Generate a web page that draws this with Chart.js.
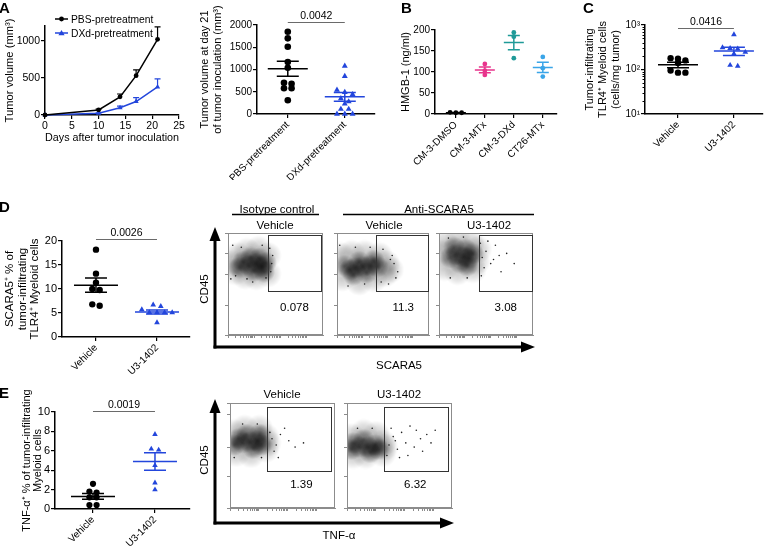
<!DOCTYPE html>
<html>
<head>
<meta charset="utf-8">
<script src="https://cdn.jsdelivr.net/npm/chart.js@4.4.1/dist/chart.umd.min.js"></script>
<style>
  body { margin: 0; background: #fff; }
  #fig { position: relative; width: 768px; height: 555px; overflow: hidden; }
  #fig canvas { position: absolute; }
  #ann { position: absolute; left: 0; top: 0; pointer-events: none; }
</style>
</head>
<body>
<div id="fig">
<svg id="ann" width="768" height="555" font-family="'Liberation Sans', Arial, sans-serif">
  <g font-weight="bold" font-size="15">
    <text x="-1" y="13">A</text>
    <text x="401" y="13">B</text>
    <text x="583" y="13">C</text>
    <text x="-1" y="212">D</text>
    <text x="-1" y="398">E</text>
  </g>
  <!-- legend of the growth curves -->
  <line x1="55" y1="19" x2="68" y2="19" stroke="#000" stroke-width="1.5"/>
  <circle cx="61.5" cy="19" r="2.4" fill="#000"/>
  <text x="71" y="22.5" font-size="10.3">PBS-pretreatment</text>
  <line x1="55" y1="33" x2="68" y2="33" stroke="#2346dc" stroke-width="1.5"/>
  <path d="M61.5 30 L64.6 35.2 L58.4 35.2 Z" fill="#2346dc"/>
  <text x="71" y="36.5" font-size="10.3">DXd-pretreatment</text>
  <!-- flow headers -->
  <g font-size="11.5" text-anchor="middle">
    <text x="277" y="213">Isotype control</text>
    <text x="439" y="213">Anti-SCARA5</text>
    <text x="275" y="229">Vehicle</text>
    <text x="384" y="229">Vehicle</text>
    <text x="489" y="229">U3-1402</text>
    <text x="282" y="398">Vehicle</text>
    <text x="399" y="398">U3-1402</text>
    <text x="399" y="369">SCARA5</text>
    <text x="339" y="539">TNF-α</text>
    <text transform="translate(208,289) rotate(-90)">CD45</text>
    <text transform="translate(208,460) rotate(-90)">CD45</text>
  </g>
  <g stroke="#000" stroke-width="1.4">
    <line x1="232" y1="214.5" x2="319" y2="214.5"/>
    <line x1="343" y1="214.5" x2="534" y2="214.5"/>
  </g>
  <g stroke="#000" stroke-width="3">
    <line x1="215" y1="348.5" x2="215" y2="238"/>
    <line x1="213.5" y1="347" x2="523" y2="347"/>
    <line x1="215" y1="524.5" x2="215" y2="410"/>
    <line x1="213.5" y1="523" x2="442" y2="523"/>
  </g>
  <g fill="#000">
    <path d="M215 227 L209.5 241 L220.5 241 Z"/>
    <path d="M535 347 L521 341.5 L521 352.5 Z"/>
    <path d="M215 399 L209.5 413 L220.5 413 Z"/>
    <path d="M454 523 L440 517.5 L440 528.5 Z"/>
  </g>
</svg>
</div>
<script>
const FONT = '"Liberation Sans", Arial, sans-serif';
const BLACK = '#000';
const BLUE = '#2346dc';

// A: tumour growth after pretreatment (mean, upper SEM)
const days = [0, 10, 14, 17, 21];
const dayTicks = [0, 5, 10, 15, 20, 25];
const volumeTicks = [0, 500, 1000];
const pbsVolume = [0, 68, 245, 530, 1020];
const pbsVolumeSem = [0, 10, 38, 78, 168];
const dxdVolume = [0, 23, 97, 182, 378];
const dxdVolumeSem = [0, 6, 24, 52, 110];

// A: volume at day 21
const pretreatGroups = ['PBS-pretreatment', 'DXd-pretreatment'];
const day21Ticks = [0, 500, 1000, 1500, 2000];
const pbsDay21 = [1850, 1700, 1510, 1170, 1040, 700, 680, 580, 580, 310];
const dxdDay21 = [1080, 850, 540, 490, 440, 350, 280, 230, 110, 110, 0, 0, 0];
const day21Mean = [1015, 385];
const day21Sem = [168, 100];
const day21P = '0.0042';

// B: HMGB-1
const hmgbGroups = ['CM-3-DMSO', 'CM-3-MTx', 'CM-3-DXd', 'CT26-MTx'];
const hmgbTicks = [0, 50, 100, 150, 200];
const hmgbDmso = [3, 4, 3];
const hmgbMtx = [119, 103, 93];
const hmgbDxd = [194, 184, 133];
const hmgbCt26 = [136, 109, 89];
const hmgbMean = [3, 105, 170, 111];
const hmgbSem = [0.5, 7, 17, 12];

// C: TLR4+ myeloid cells
const treatGroups = ['Vehicle', 'U3-1402'];
const tlr4Ticks = [10, 100, 1000];
const tlr4Vehicle = [180, 175, 160, 140, 95, 85, 85];
const tlr4U3 = [610, 310, 300, 290, 245, 225, 125, 120];
const tlr4Mean = [128, 262];
const tlr4Sem = [18, 55];
const tlr4P = '0.0416';

// D: SCARA5+
const scaraTicks = [0, 5, 10, 15, 20];
const scaraVehicle = [18.2, 13.2, 11.3, 10.0, 9.8, 6.8, 6.5];
const scaraU3 = [6.7, 6.4, 5.7, 5.1, 5.1, 5.1, 5.1, 3.0];
const scaraMean = [10.8, 5.2];
const scaraSem = [1.5, 0.4];
const scaraP = '0.0026';
const scaraGatePct = ['0.078', '11.3', '3.08'];

// E: TNF-α+
const tnfTicks = [0, 2, 4, 6, 8, 10];
const tnfVehicle = [2.6, 1.8, 1.7, 1.2, 1.2, 0.4, 0.4];
const tnfU3 = [7.7, 6.2, 6.1, 4.5, 2.7, 2.0];
const tnfMean = [1.3, 4.9];
const tnfSem = [0.3, 0.9];
const tnfP = '0.0019';
const tnfGatePct = ['1.39', '6.32'];

// flow events as [SCARA5 or TNF-α, CD45] in % of each axis: dense core, halo, sparse events
const isoVehCore = [[30,70],[22,68],[36,67],[27,63],[33,75],[16,72],[40,71],[24,76],[12,66],[38,62]];
const isoVehHalo = [[10,78],[20,82],[32,84],[42,78],[8,62],[18,58],[30,57],[42,60],[4,70]];
const isoVehSparse = [[46,70],[5,88],[44,85],[3,55],[26,52],[45,62],[14,86],[36,88],[40,56],[8,58],[20,55],[47,78]];
const scaraVehCore = [[28,67],[20,66],[36,68],[14,64],[44,67],[24,72],[32,61],[8,68],[40,73],[18,59]];
const scaraVehHalo = [[4,78],[16,80],[30,80],[46,78],[54,70],[52,60],[40,55],[24,52],[6,56],[58,64]];
const scaraVehSparse = [[62,70],[60,78],[3,88],[66,62],[56,50],[12,48],[50,84],[64,56],[20,86],[36,86],[30,50],[58,74],[48,52]];
const scaraU3Core = [[26,77],[18,79],[32,75],[22,71],[12,76],[36,80],[28,84],[16,86],[30,68]];
const scaraU3Halo = [[6,90],[20,93],[34,90],[40,72],[6,66],[20,62],[36,64],[4,80],[42,84]];
const scaraU3Sparse = [[46,76],[50,82],[55,70],[60,88],[66,62],[58,74],[72,80],[48,66],[52,92],[45,58],[80,70],[64,78],[12,56],[30,56],[10,95],[26,96],[44,90]];
const tnfVehCore = [[19,63],[12,62],[26,64],[8,66],[30,60],[16,70],[22,57],[4,60],[28,70]];
const tnfVehHalo = [[4,72],[14,76],[28,76],[34,68],[34,56],[20,51],[6,52],[36,62]];
const tnfVehSparse = [[40,66],[44,60],[38,72],[48,70],[56,64],[62,58],[52,76],[42,54],[70,62],[46,48],[12,80],[26,80],[4,48],[30,48]];
const tnfU3Core = [[20,58],[12,58],[27,60],[6,62],[30,56],[16,65],[22,53],[4,56]];
const tnfU3Halo = [[4,68],[16,72],[28,70],[34,62],[34,52],[18,50],[6,50],[36,58]];
const tnfU3Sparse = [[40,60],[44,68],[48,56],[52,72],[56,62],[60,78],[64,58],[70,66],[42,76],[76,70],[50,48],[58,50],[80,62],[46,64],[66,74],[38,50],[10,76],[24,76],[84,74],[72,54]];

Chart.defaults.font.family = FONT;
Chart.defaults.font.size = 10;
Chart.defaults.color = BLACK;
Chart.defaults.animation = false;
Chart.defaults.responsive = false;
Chart.defaults.events = [];
Chart.defaults.layout.autoPadding = false;
Chart.defaults.plugins.legend.display = false;
Chart.defaults.plugins.tooltip.enabled = false;

// mean line with SEM whiskers per group
const meanSem = {
  id: 'meanSem',
  afterDatasetsDraw(chart, args, o) {
    if (!o.means) return;
    const { ctx, scales: { x, y } } = chart;
    ctx.save();
    ctx.lineWidth = 1.5;
    o.means.forEach((m, i) => {
      const cx = x.getPixelForValue(i);
      const my = y.getPixelForValue(m);
      const lo = y.getPixelForValue(m - o.sems[i]);
      const hi = y.getPixelForValue(m + o.sems[i]);
      ctx.strokeStyle = o.colors[i];
      ctx.beginPath();
      ctx.moveTo(cx - o.wide, my); ctx.lineTo(cx + o.wide, my);
      ctx.moveTo(cx, lo); ctx.lineTo(cx, hi);
      ctx.moveTo(cx - o.narrow, lo); ctx.lineTo(cx + o.narrow, lo);
      ctx.moveTo(cx - o.narrow, hi); ctx.lineTo(cx + o.narrow, hi);
      ctx.stroke();
    });
    ctx.restore();
  }
};

// p value bar between the two groups
const sigBar = {
  id: 'sigBar',
  afterDraw(chart, args, o) {
    if (!o.text) return;
    const { ctx, scales: { x, y } } = chart;
    const x0 = x.getPixelForValue(0), x1 = x.getPixelForValue(1);
    const py = Math.round(y.getPixelForValue(o.y)) + 0.5;
    ctx.save();
    ctx.strokeStyle = '#6a6a6a';
    ctx.lineWidth = 1.2;
    ctx.beginPath(); ctx.moveTo(x0, py); ctx.lineTo(x1, py); ctx.stroke();
    ctx.fillStyle = BLACK;
    ctx.font = '10.5px ' + FONT;
    ctx.textAlign = 'center';
    ctx.textBaseline = 'bottom';
    ctx.fillText(o.text, (x0 + x1) / 2, py - 1);
    ctx.restore();
  }
};

// upward-only error bars for the growth curves
const upErr = {
  id: 'upErr',
  afterDatasetsDraw(chart) {
    const { ctx, scales: { x, y } } = chart;
    chart.data.datasets.forEach(ds => {
      if (!ds.err) return;
      ctx.save();
      ctx.strokeStyle = ds.borderColor;
      ctx.lineWidth = 1.2;
      ds.data.forEach((p, i) => {
        if (!ds.err[i]) return;
        const px = x.getPixelForValue(p.x);
        const top = y.getPixelForValue(p.y + ds.err[i]);
        ctx.beginPath();
        ctx.moveTo(px, y.getPixelForValue(p.y)); ctx.lineTo(px, top);
        ctx.moveTo(px - 3, top); ctx.lineTo(px + 3, top);
        ctx.stroke();
      });
      ctx.restore();
    });
  }
};

// short minor ticks on a log axis
const logMinor = {
  id: 'logMinor',
  afterDraw(chart, args, o) {
    if (!o.on) return;
    const { ctx, chartArea: a, scales: { y } } = chart;
    ctx.save();
    ctx.strokeStyle = BLACK;
    ctx.lineWidth = 1;
    ctx.beginPath();
    for (let d = y.min; d < y.max; d *= 10) {
      for (let k = 2; k < 10; k++) {
        const py = Math.round(y.getPixelForValue(d * k)) + 0.5;
        ctx.moveTo(a.left - 2.5, py); ctx.lineTo(a.left, py);
      }
    }
    ctx.stroke();
    ctx.restore();
  }
};

// frame, gate and gate percentage of a flow plot
const flowBox = {
  id: 'flowBox',
  afterDraw(chart, args, o) {
    if (!o.gate) return;
    const { ctx, chartArea: a, scales: { x, y } } = chart;
    ctx.save();
    ctx.strokeStyle = '#8c8c8c';
    ctx.lineWidth = 1;
    ctx.strokeRect(a.left + 0.5, a.top + 0.5, a.width - 1, a.height - 1);
    const [gx0, gx1, gy0, gy1] = o.gate;
    const l = Math.round(x.getPixelForValue(gx0)) + 0.5, r = Math.round(x.getPixelForValue(gx1)) + 0.5;
    const t = Math.round(y.getPixelForValue(gy1)) + 0.5, b = Math.round(y.getPixelForValue(gy0)) + 0.5;
    ctx.strokeStyle = '#333';
    ctx.strokeRect(l, t, r - l, b - t);
    ctx.fillStyle = BLACK;
    ctx.font = '11.5px ' + FONT;
    ctx.textAlign = 'center';
    ctx.textBaseline = 'middle';
    ctx.fillText(o.label, x.getPixelForValue(o.at[0]), y.getPixelForValue(o.at[1]));
    ctx.restore();
  }
};

Chart.register(meanSem, sigBar, upErr, logMinor, flowBox);

const fig = document.getElementById('fig');
const place = (left, top, w, h) => {
  const c = document.createElement('canvas');
  c.width = w; c.height = h;
  c.style.left = left + 'px'; c.style.top = top + 'px';
  fig.insertBefore(c, fig.firstChild);
  return c;
};

const axisLine = { color: BLACK, width: 1.5 };
const axisGrid = { drawOnChartArea: false, tickLength: 4, color: BLACK, lineWidth: 1.2 };
const setTicks = list => s => { s.ticks = list.map(v => ({ value: v })); };
const plain = v => String(v);

// spread points of similar value side by side, like a column scatter
const swarm = (vals, pxY, gap, pxPerCat) => {
  const order = vals.map((v, i) => i).sort((a, b) => vals[b] - vals[a]);
  const offs = vals.map(() => 0);
  let row = [];
  const flush = () => {
    row.forEach((k, j) => { offs[k] = (j - (row.length - 1) / 2) * gap / pxPerCat; });
    row = [];
  };
  order.forEach(k => {
    if (row.length && Math.abs(pxY(vals[row[0]]) - pxY(vals[k])) > gap * 0.6) flush();
    row.push(k);
  });
  flush();
  return offs;
};

const dotPlot = o => {
  const [L, T, W, H] = o.box;
  const [l, t, r, b] = o.area;
  const pxPerCat = (r - l) / (o.xmax - o.xmin);
  const pxY = o.log
    ? v => Math.log10(v) * (b - t) / Math.log10(o.ymax / o.ymin)
    : v => v * (b - t) / (o.ymax - o.ymin);
  const datasets = o.groups.map((g, i) => {
    const offs = swarm(g.vals, pxY, g.r * 2 + 1, pxPerCat);
    return {
      data: g.vals.map((v, k) => ({ x: i + offs[k], y: v })),
      pointStyle: g.style || 'circle',
      pointRadius: g.r,
      backgroundColor: g.color,
      borderColor: g.color,
      pointBorderWidth: 0,
      clip: false
    };
  });
  new Chart(place(L, T, W, H), {
    type: 'scatter',
    data: { datasets },
    options: {
      layout: { padding: { top: t - T, right: L + W - r, left: 0, bottom: 0 } },
      scales: {
        x: {
          min: o.xmin, max: o.xmax,
          afterFit: s => { s.height = T + H - b; },
          afterBuildTicks: setTicks(o.cats.map((c, i) => i)),
          border: axisLine, grid: axisGrid,
          ticks: { autoSkip: false, minRotation: 45, maxRotation: 45, padding: 1, font: { size: 10 }, callback: v => o.cats[v] }
        },
        y: {
          type: o.log ? 'logarithmic' : 'linear',
          min: o.ymin, max: o.ymax,
          afterFit: s => { s.width = l - L; },
          afterBuildTicks: setTicks(o.yticks),
          border: axisLine, grid: axisGrid,
          ticks: { padding: 1, font: { size: o.tickSize || 10 }, callback: o.yfmt || plain },
          title: { display: true, text: o.ytitle, font: { size: o.titleSize || 11, lineHeight: o.titleLh || 1.2 }, padding: { top: o.tpad, bottom: 0 } }
        }
      },
      plugins: {
        meanSem: { means: o.means, sems: o.sems, colors: o.groups.map(g => g.color), wide: o.wide, narrow: o.narrow },
        sigBar: o.p ? { text: o.p, y: o.pY } : {},
        logMinor: { on: !!o.log }
      }
    }
  });
};

// A, growth curves
new Chart(place(0, 0, 190, 150), {
  type: 'scatter',
  data: {
    datasets: [
      {
        data: days.map((d, i) => ({ x: d, y: pbsVolume[i] })), err: pbsVolumeSem,
        showLine: true, borderColor: BLACK, backgroundColor: BLACK, borderWidth: 1.5,
        pointRadius: 2.4, pointBorderWidth: 0, clip: false
      },
      {
        data: days.map((d, i) => ({ x: d, y: dxdVolume[i] })), err: dxdVolumeSem,
        showLine: true, borderColor: BLUE, backgroundColor: BLUE, borderWidth: 1.5,
        pointStyle: 'triangle', pointRadius: 3, pointBorderWidth: 0, clip: false
      }
    ]
  },
  options: {
    layout: { padding: { top: 26, right: 11, left: 0, bottom: 0 } },
    scales: {
      x: {
        min: 0, max: 25,
        afterFit: s => { s.height = 35; },
        afterBuildTicks: setTicks(dayTicks),
        border: axisLine, grid: axisGrid,
        ticks: { padding: 1, font: { size: 10.5 }, callback: plain },
        title: { display: true, text: 'Days after tumor inoculation', font: { size: 11.2 }, padding: { top: 2, bottom: 5 } }
      },
      y: {
        min: 0, max: 1200,
        afterFit: s => { s.width = 45; },
        afterBuildTicks: setTicks(volumeTicks),
        border: axisLine, grid: axisGrid,
        ticks: { padding: 1, font: { size: 10.5 }, callback: plain },
        title: { display: true, text: 'Tumor volume (mm³)', font: { size: 11.2 }, padding: { top: 3, bottom: 0 } }
      }
    }
  }
});

// A, day 21
dotPlot({
  box: [190, 0, 190, 180], area: [257, 25, 375, 114],
  xmin: -0.54, xmax: 1.53, ymin: 0, ymax: 2000, yticks: day21Ticks,
  cats: pretreatGroups,
  groups: [{ vals: pbsDay21, color: BLACK, r: 3.3 }, { vals: dxdDay21, color: BLUE, r: 3.4, style: 'triangle' }],
  means: day21Mean, sems: day21Sem, wide: 20, narrow: 11,
  p: day21P, pY: 2060,
  ytitle: ['Tumor volume at day 21', 'of tumor inoculation (mm³)'], tpad: 8.5
});

// B
dotPlot({
  box: [380, 0, 180, 180], area: [435, 30, 557, 114],
  xmin: -0.72, xmax: 3.49, ymin: 0, ymax: 200, yticks: hmgbTicks,
  cats: hmgbGroups,
  groups: [
    { vals: hmgbDmso, color: BLACK, r: 2.4 },
    { vals: hmgbMtx, color: '#e8348c', r: 2.4 },
    { vals: hmgbDxd, color: '#1f9a98', r: 2.4 },
    { vals: hmgbCt26, color: '#3aa5e8', r: 2.4 }
  ],
  means: hmgbMean, sems: hmgbSem, wide: 10, narrow: 6,
  ytitle: 'HMGB-1 (ng/ml)', tpad: 19
});

// C
const sup = { 1: '¹', 2: '²', 3: '³' };
dotPlot({
  box: [560, 0, 208, 180], area: [645, 25, 763, 114],
  xmin: -0.59, xmax: 1.52, ymin: 10, ymax: 1000, yticks: tlr4Ticks, log: true,
  yfmt: v => '10' + sup[Math.round(Math.log10(v))],
  cats: treatGroups,
  groups: [{ vals: tlr4Vehicle, color: BLACK, r: 3.2 }, { vals: tlr4U3, color: BLUE, r: 3.3, style: 'triangle' }],
  means: tlr4Mean, sems: tlr4Sem, wide: 20, narrow: 11,
  p: tlr4P, pY: 870,
  ytitle: ['Tumor-infiltrating', 'TLR4⁺ Myeloid cells', '(cells/mg tumor)'], titleLh: 1.18, tpad: 23.5
});

// D
dotPlot({
  box: [0, 190, 200, 190], area: [62, 241, 190, 337],
  xmin: -0.557, xmax: 1.541, ymin: 0, ymax: 20, yticks: scaraTicks, tickSize: 11,
  cats: treatGroups,
  groups: [{ vals: scaraVehicle, color: BLACK, r: 3.2 }, { vals: scaraU3, color: BLUE, r: 3.3, style: 'triangle' }],
  means: scaraMean, sems: scaraSem, wide: 22, narrow: 11,
  p: scaraP, pY: 20.4,
  ytitle: ['SCARA5⁺ % of', 'tumor-infiltrating', 'TLR4⁺ Myeloid cells'], titleSize: 11.5, titleLh: 1.1, tpad: 3.7
});

// E
dotPlot({
  box: [0, 385, 200, 170], area: [55, 412, 190, 509],
  xmin: -0.613, xmax: 1.565, ymin: 0, ymax: 10, yticks: tnfTicks, tickSize: 11,
  cats: treatGroups,
  groups: [{ vals: tnfVehicle, color: BLACK, r: 3.1 }, { vals: tnfU3, color: BLUE, r: 3.2, style: 'triangle' }],
  means: tnfMean, sems: tnfSem, wide: 22, narrow: 11,
  p: tnfP, pY: 10.1,
  ytitle: ['TNF-α⁺ % of tumor-infiltrating', 'Myeloid cells'], titleSize: 11, titleLh: 1.0, tpad: 21.5
});

// flow plots: events drawn as soft sprites so the dense core reads as a cloud
const blob = (size, alpha) => {
  const c = document.createElement('canvas');
  c.width = c.height = size;
  const g = c.getContext('2d');
  const grad = g.createRadialGradient(size / 2, size / 2, 0, size / 2, size / 2, size / 2);
  grad.addColorStop(0, `rgba(0,0,0,${alpha})`);
  grad.addColorStop(0.55, `rgba(0,0,0,${alpha * 0.55})`);
  grad.addColorStop(1, 'rgba(0,0,0,0)');
  g.fillStyle = grad;
  g.fillRect(0, 0, size, size);
  return c;
};
const coreBlob = blob(22, 0.55);
const haloBlob = blob(28, 0.22);

const flowXTicks = [];
[0, 27.5, 55].forEach(s => { [1, 2, 3, 4, 5, 6, 7, 8, 9, 10].forEach(k => flowXTicks.push(s + 27.5 * Math.log10(k))); });
const flowGrid = { drawOnChartArea: false, tickLength: 3, color: '#8c8c8c', lineWidth: 1 };
const flowLine = { color: '#8c8c8c', width: 1 };
const xy = a => a.map(([x, y]) => ({ x, y }));
const events = (pts, style, r, color) => ({
  data: xy(pts), pointStyle: style, pointRadius: r, backgroundColor: color,
  borderColor: 'rgba(0,0,0,0)', pointBorderWidth: 0, borderWidth: 0, clip: 0
});

const flowPlot = (area, core, halo, sparse, gate, label, at, yTicks) => {
  const [l, t, r, b] = area;
  new Chart(place(l - 6, t - 2, r - l + 9, b - t + 9), {
    type: 'scatter',
    data: {
      datasets: [
        events(sparse, 'circle', 0.8, '#222'),
        events(core, coreBlob, 1, BLACK),
        events(halo, haloBlob, 1, BLACK)
      ]
    },
    options: {
      layout: { padding: { top: 2, right: 3, left: 0, bottom: 0 } },
      scales: {
        x: {
          min: 0, max: 100,
          afterFit: s => { s.height = 7; },
          afterBuildTicks: setTicks(flowXTicks),
          border: flowLine, grid: flowGrid, ticks: { display: false }
        },
        y: {
          min: 0, max: 100,
          afterFit: s => { s.width = 6; },
          afterBuildTicks: setTicks(yTicks),
          border: flowLine, grid: flowGrid, ticks: { display: false }
        }
      },
      plugins: { flowBox: { gate, label, at } }
    }
  });
};

flowPlot([228, 233, 323, 335], isoVehCore, isoVehHalo, isoVehSparse, [42, 98, 43, 98], scaraGatePct[0], [70, 27], [0, 29, 59, 80, 100]);
flowPlot([337, 233, 429, 335], scaraVehCore, scaraVehHalo, scaraVehSparse, [42, 99, 43, 98], scaraGatePct[1], [72, 27], [0, 29, 59, 80, 100]);
flowPlot([439, 233, 533, 335], scaraU3Core, scaraU3Halo, scaraU3Sparse, [43, 99, 43, 98], scaraGatePct[2], [71, 27], [0, 29, 59, 80, 100]);
flowPlot([230, 403, 335, 508], tnfVehCore, tnfVehHalo, tnfVehSparse, [35, 96, 35, 96], tnfGatePct[0], [68, 22], [0, 30, 58, 89, 100]);
flowPlot([347, 403, 452, 508], tnfU3Core, tnfU3Halo, tnfU3Sparse, [35, 96, 35, 96], tnfGatePct[1], [65, 22], [0, 30, 58, 89, 100]);
</script>
</body>
</html>
